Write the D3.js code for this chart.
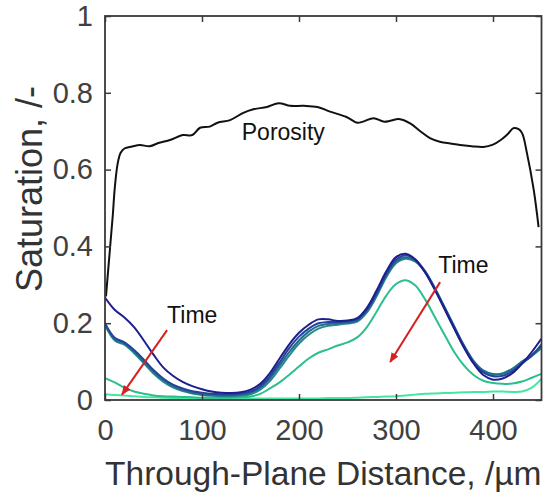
<!DOCTYPE html>
<html>
<head>
<meta charset="utf-8">
<script src="https://cdn.jsdelivr.net/npm/d3@7"></script>
<style>
  body { margin: 0; background: #fff; }
  text { font-family: Arial, "Liberation Sans", sans-serif; }
</style>
</head>
<body>
<svg id="chart" width="545" height="501"></svg>
<script>
// through-plane distance grid for the saturation profiles, um
const distance = [0,10,20,30,40,50,60,70,80,90,100,110,120,130,140,150,160,170,180,190,200,210,220,230,240,250,260,270,280,290,300,310,320,330,340,350,360,370,380,390,400,410,420,430,440,450];

// saturation profiles, earliest (navy) to latest (light green)
const satA = [0.267,0.235,0.215,0.19,0.155,0.118,0.085,0.063,0.047,0.036,0.028,0.022,0.019,0.018,0.02,0.027,0.042,0.07,0.108,0.145,0.175,0.196,0.21,0.21,0.206,0.207,0.213,0.24,0.285,0.335,0.372,0.381,0.366,0.332,0.287,0.237,0.186,0.137,0.095,0.065,0.053,0.056,0.07,0.095,0.125,0.16];
const satB = [0.2,0.162,0.15,0.13,0.105,0.078,0.056,0.04,0.03,0.023,0.019,0.016,0.015,0.015,0.017,0.022,0.036,0.062,0.098,0.135,0.165,0.186,0.2,0.203,0.203,0.205,0.21,0.235,0.278,0.328,0.365,0.377,0.365,0.335,0.29,0.24,0.19,0.14,0.098,0.072,0.062,0.063,0.075,0.095,0.115,0.145];
const satC = [0.198,0.158,0.147,0.126,0.1,0.073,0.052,0.036,0.026,0.019,0.015,0.013,0.012,0.012,0.014,0.019,0.032,0.056,0.09,0.125,0.155,0.178,0.193,0.198,0.2,0.202,0.207,0.232,0.275,0.325,0.36,0.372,0.362,0.335,0.292,0.243,0.192,0.143,0.102,0.077,0.068,0.068,0.08,0.1,0.118,0.14];
const satD = [0.195,0.155,0.144,0.122,0.096,0.069,0.048,0.033,0.023,0.017,0.013,0.011,0.01,0.01,0.011,0.015,0.027,0.049,0.082,0.116,0.147,0.17,0.186,0.193,0.196,0.199,0.204,0.228,0.27,0.32,0.356,0.368,0.36,0.333,0.29,0.24,0.188,0.138,0.097,0.073,0.065,0.07,0.082,0.1,0.115,0.135];
const satE = [0.057,0.046,0.032,0.022,0.016,0.012,0.01,0.009,0.008,0.007,0.006,0.006,0.006,0.006,0.007,0.009,0.016,0.03,0.046,0.066,0.087,0.108,0.123,0.132,0.142,0.15,0.163,0.19,0.23,0.272,0.302,0.312,0.298,0.262,0.216,0.17,0.125,0.09,0.065,0.05,0.044,0.042,0.043,0.048,0.058,0.068];
const satF = [0.015,0.013,0.012,0.01,0.008,0.007,0.006,0.005,0.005,0.005,0.004,0.004,0.004,0.004,0.004,0.004,0.004,0.004,0.004,0.004,0.004,0.004,0.004,0.005,0.005,0.005,0.006,0.007,0.008,0.009,0.01,0.012,0.014,0.016,0.017,0.018,0.019,0.02,0.021,0.021,0.022,0.022,0.021,0.022,0.032,0.055];

const satSeries = [satA, satB, satC, satD, satE, satF];
const satColors = ["#1e1e8e", "#27429a", "#1f6f8c", "#26898f", "#2bbf8c", "#45e6a0"];

// porosity profile
const porX = [1,5,8,10,13,16,20,28,36,46,56,67,80,90,98,108,116,129,142,153,167,179,191,205,219,232,249,260,266,277,287,294,303,315,325,335,346,356,366,378,390,400,408,415,421,426,430,435,442,447];
const porY = [0.27,0.39,0.48,0.55,0.615,0.643,0.655,0.66,0.664,0.661,0.67,0.677,0.69,0.69,0.709,0.712,0.722,0.729,0.747,0.757,0.763,0.773,0.766,0.766,0.763,0.751,0.737,0.722,0.725,0.734,0.725,0.727,0.732,0.72,0.70,0.682,0.672,0.668,0.664,0.661,0.659,0.665,0.677,0.692,0.708,0.706,0.695,0.643,0.547,0.45];

const xTicks = [0, 100, 200, 300, 400];
const yTicks = [0, 0.2, 0.4, 0.6, 0.8, 1];

// "Time" annotations: label position and arrow from -> to, in data units
const notes = [
  {label: "Time", lx: 64, ly: 0.2, x1: 64, y1: 0.182, x2: 17.5, y2: 0.014},
  {label: "Time", lx: 343.5, ly: 0.331, x1: 345.5, y1: 0.307, x2: 294, y2: 0.099}
];

const svg = d3.select("#chart");
const x = d3.scaleLinear().domain([0, 450]).range([105, 541.5]);
const y = d3.scaleLinear().domain([0, 1]).range([400, 16]);

svg.append("defs").append("clipPath").attr("id", "plot")
  .append("rect")
  .attr("x", x(0)).attr("y", y(1))
  .attr("width", x(450) - x(0)).attr("height", y(0) - y(1));

svg.select("defs").append("marker")
  .attr("id", "head")
  .attr("viewBox", "0 0 10 10")
  .attr("refX", 9).attr("refY", 5)
  .attr("markerWidth", 5).attr("markerHeight", 5)
  .attr("orient", "auto")
  .append("path")
  .attr("d", "M0,1 L10,5 L0,9 z")
  .attr("fill", "#d42222");

const line = d3.line()
  .x((d) => x(d[0]))
  .y((d) => y(d[1]))
  .curve(d3.curveCatmullRom);

const plot = svg.append("g").attr("clip-path", "url(#plot)");

// latest first so the earlier profiles sit on top
satSeries.slice().reverse().forEach((s, i) => {
  const k = satSeries.length - 1 - i;
  plot.append("path")
    .datum(distance.map((d, j) => [d, s[j]]))
    .attr("d", line)
    .attr("fill", "none")
    .attr("stroke", satColors[k])
    .attr("stroke-width", 2);
});

plot.append("path")
  .datum(porX.map((d, j) => [d, porY[j]]))
  .attr("d", line)
  .attr("fill", "none")
  .attr("stroke", "#111")
  .attr("stroke-width", 2);

// axes with inward ticks on all four sides
const axisColor = "#3a3a3a";
function styleAxis(g) {
  g.select(".domain").remove();
  g.selectAll(".tick line").attr("stroke", axisColor).attr("stroke-width", 1.5);
  g.selectAll(".tick text")
    .attr("fill", "#404040")
    .style("font-family", "Arial, 'Liberation Sans', sans-serif")
    .style("font-size", "29px");
}

svg.append("g")
  .attr("transform", "translate(0," + y(0) + ")")
  .call(d3.axisBottom(x).tickValues(xTicks).tickFormat(d3.format("d")).tickSizeInner(-6).tickPadding(19))
  .call(styleAxis);

svg.append("g")
  .attr("transform", "translate(0," + y(1) + ")")
  .call(d3.axisTop(x).tickValues(xTicks).tickFormat("").tickSizeInner(-6))
  .call(styleAxis);

svg.append("g")
  .attr("transform", "translate(" + x(0) + ",0)")
  .call(d3.axisLeft(y).tickValues(yTicks).tickFormat((d) => d3.format("")(+d.toFixed(1))).tickSizeInner(-6).tickPadding(12))
  .call(styleAxis);

svg.append("g")
  .attr("transform", "translate(" + x(450) + ",0)")
  .call(d3.axisRight(y).tickValues(yTicks).tickFormat("").tickSizeInner(-6))
  .call(styleAxis);

svg.append("rect")
  .attr("x", x(0)).attr("y", y(1))
  .attr("width", x(450) - x(0)).attr("height", y(0) - y(1))
  .attr("fill", "none")
  .attr("stroke", axisColor)
  .attr("stroke-width", 1.8);

// annotations
svg.append("text")
  .attr("x", x(141)).attr("y", y(0.677))
  .attr("font-size", 23)
  .attr("fill", "#111")
  .text("Porosity");

notes.forEach((n) => {
  svg.append("line")
    .attr("x1", x(n.x1)).attr("y1", y(n.y1))
    .attr("x2", x(n.x2)).attr("y2", y(n.y2))
    .attr("stroke", "#d42222")
    .attr("stroke-width", 2)
    .attr("marker-end", "url(#head)");
  svg.append("text")
    .attr("x", x(n.lx)).attr("y", y(n.ly))
    .attr("font-size", 23)
    .attr("fill", "#111")
    .text(n.label);
});

// axis titles
svg.append("text")
  .attr("x", (x(0) + x(450)) / 2)
  .attr("y", 485)
  .attr("text-anchor", "middle")
  .attr("font-size", 33.5)
  .attr("fill", "#333")
  .text("Through-Plane Distance, /µm");

svg.append("text")
  .attr("transform", "translate(42,189) rotate(-90)")
  .attr("text-anchor", "middle")
  .attr("font-size", 36)
  .attr("fill", "#333")
  .text("Saturation, /-");
</script>
</body>
</html>
